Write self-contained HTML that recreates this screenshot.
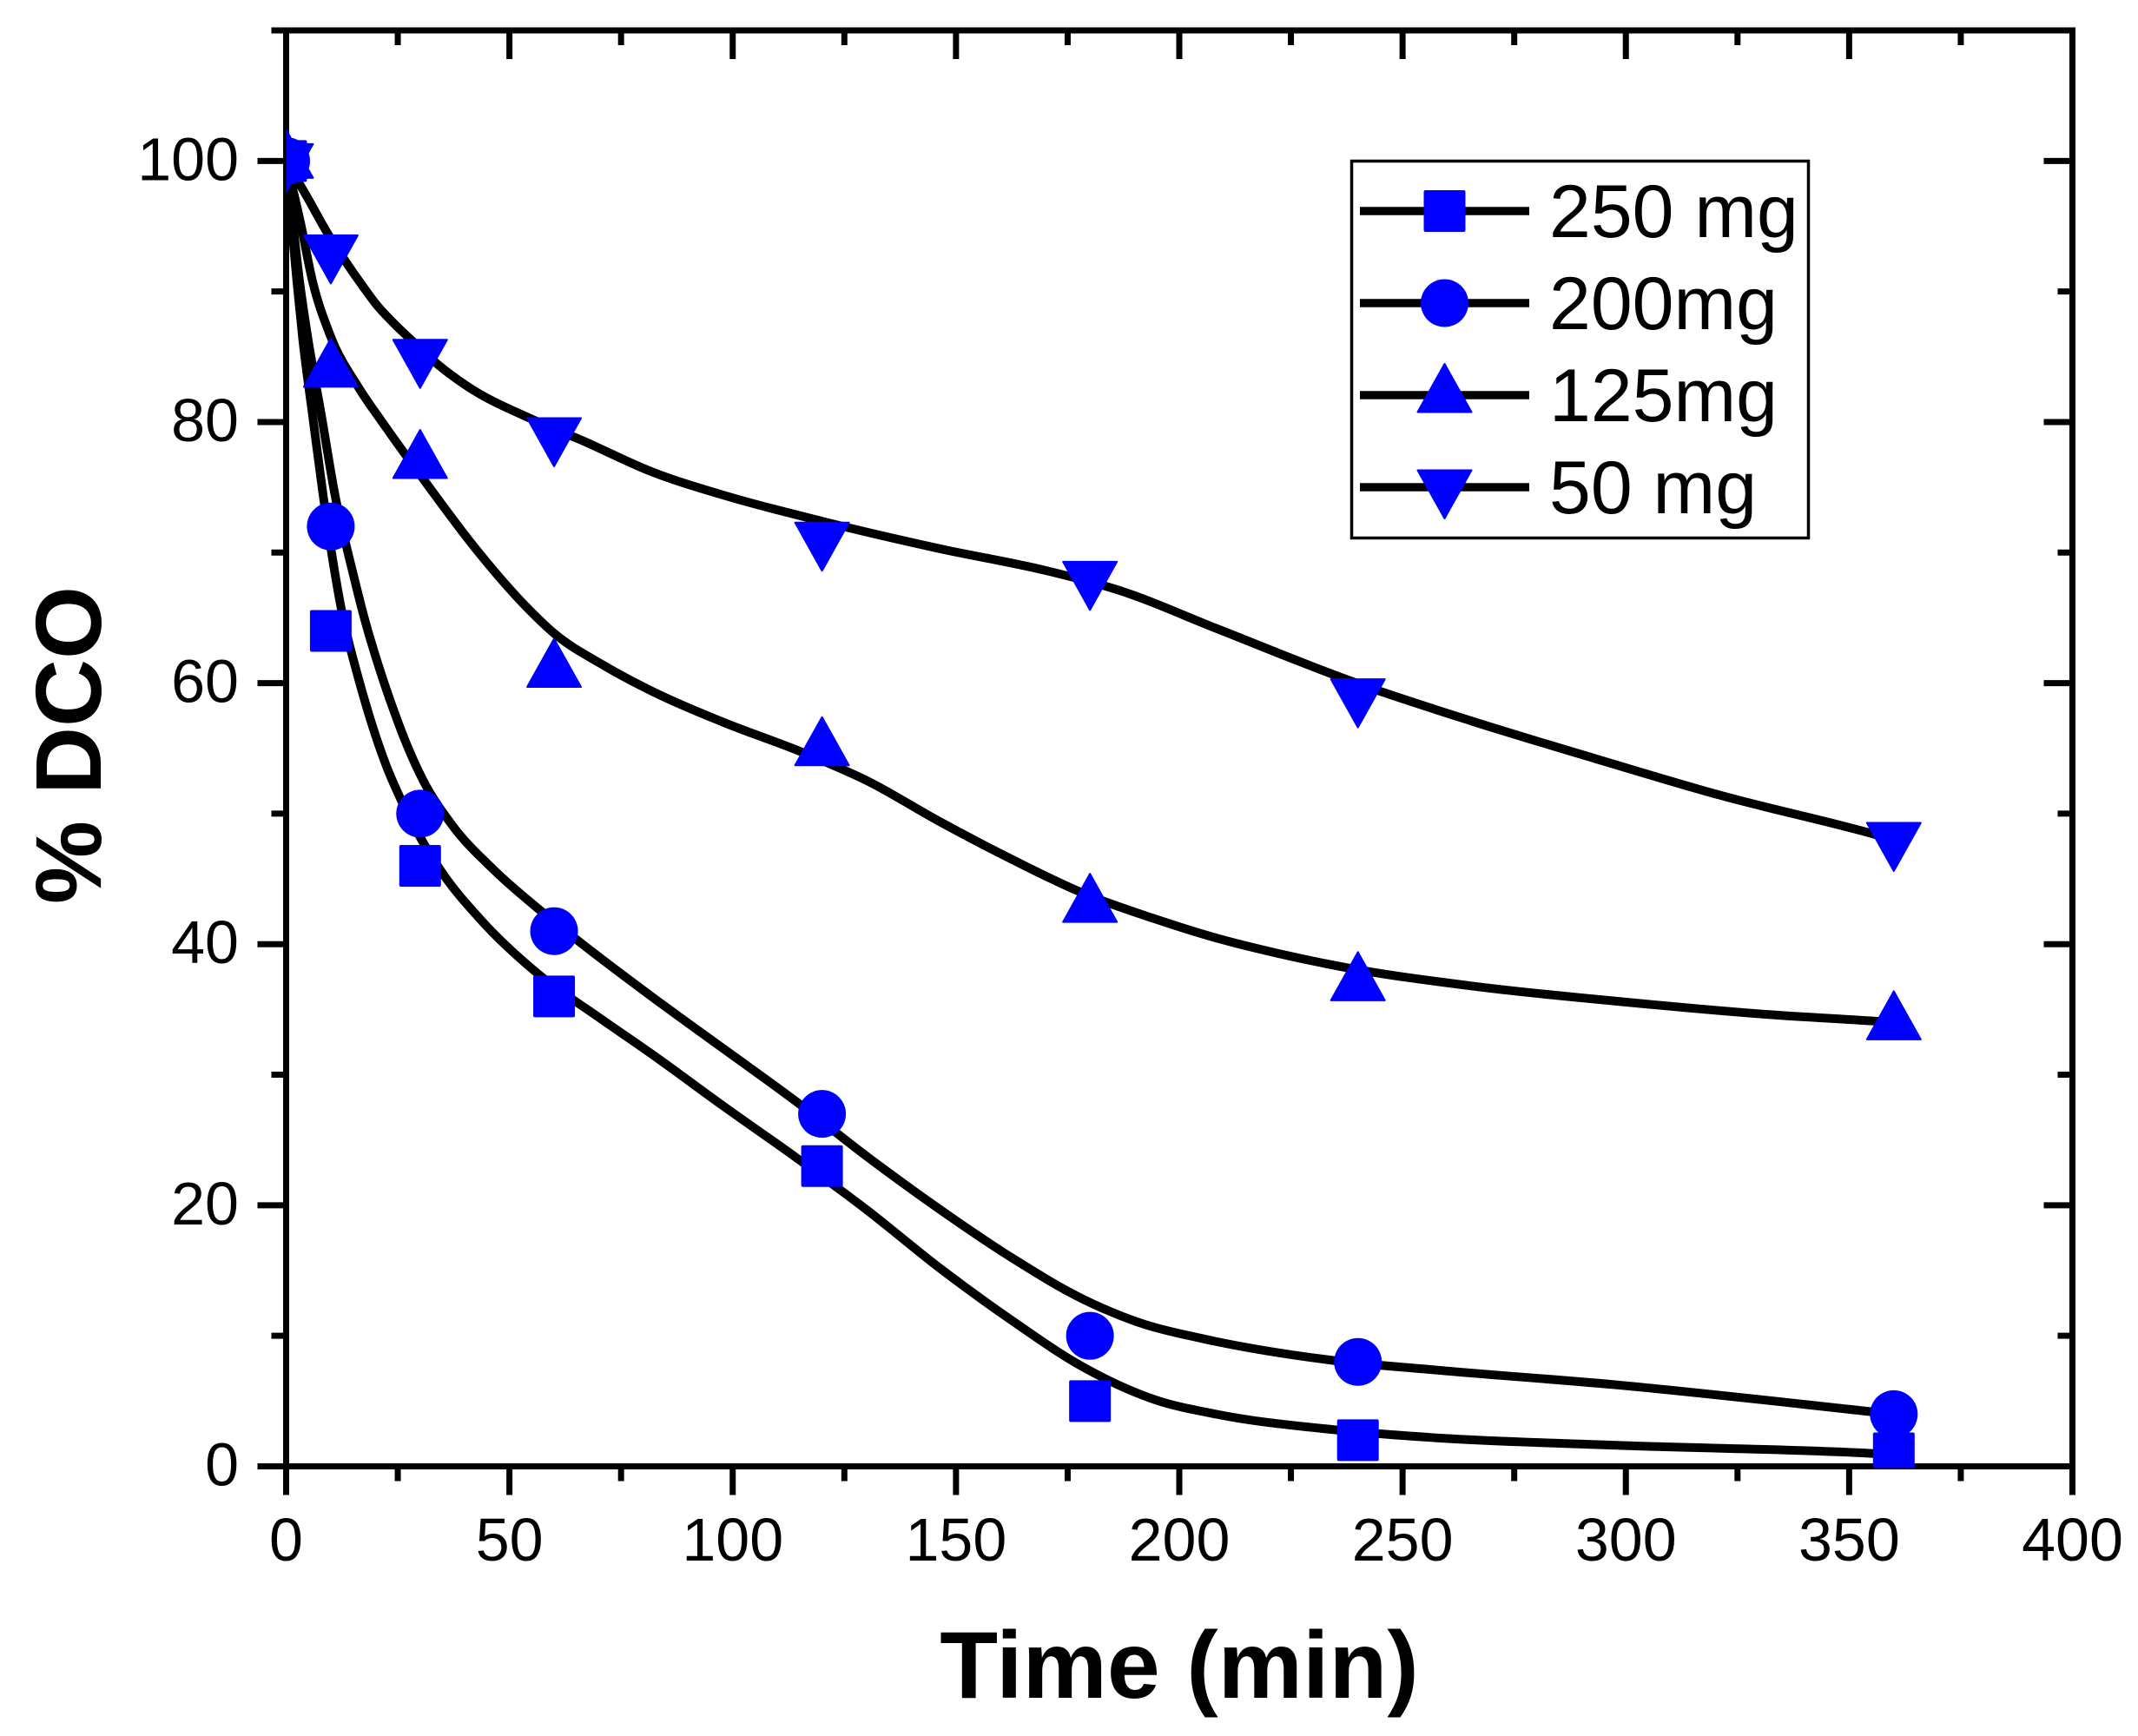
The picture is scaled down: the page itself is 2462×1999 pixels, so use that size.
<!DOCTYPE html>
<html lang="en">
<head>
<meta charset="utf-8">
<title>% DCO vs Time</title>
<style>
  html, body { margin: 0; padding: 0; background: #fff; }
  svg { display: block; }
  text { font-family: "Liberation Sans", Arial, sans-serif; fill: #000; }
  .tick-label { font-size: 70px; }
  .legend-label { font-size: 86px; }
  .axis-title { font-weight: bold; }
</style>
</head>
<body>
<svg id="chart" xmlns="http://www.w3.org/2000/svg" width="2462" height="1999" viewBox="0 0 2462 1999">
  <defs>
    <clipPath id="plot-clip"><rect x="329.5" y="0" width="2100" height="1690.5"></rect></clipPath>
  </defs>
  <rect x="0" y="0" width="2462" height="1999" fill="#fff"></rect>
  <g id="axes"></g>
  <g id="curves" clip-path="url(#plot-clip)"></g>
  <g id="markers" clip-path="url(#plot-clip)"></g>

  <text class="axis-title" font-size="109.5" x="1358" y="1955" text-anchor="middle">Time (min)</text>
  <text class="axis-title" font-size="108" x="0" y="0" text-anchor="middle" transform="translate(116 858) rotate(-90)">% DCO</text>

  <g>
    <rect x="1556.5" y="185.5" width="526" height="434" fill="#fff" stroke="#000" stroke-width="3.5"></rect>
    <g id="legend-keys"></g>
    <text class="legend-label" x="1784" y="273">250 mg</text>
    <text class="legend-label" x="1784" y="379">200mg</text>
    <text class="legend-label" x="1784" y="485">125mg</text>
    <text class="legend-label" x="1784" y="591">50 mg</text>
  </g>
</svg>

<script>
// Axis ranges and ticks
const xDomain = [0, 400];
const yDomain = [0, 110];
const xMajorTicks = [0, 50, 100, 150, 200, 250, 300, 350, 400];
const xMinorTicks = [25, 75, 125, 175, 225, 275, 325, 375];
const yMajorTicks = [0, 20, 40, 60, 80, 100];
const yMinorTicks = [10, 30, 50, 70, 90, 110];

// Measured data points
const times = [0, 10, 30, 60, 120, 180, 240, 360];
const values250 = [100, 64, 46, 36, 23, 5, 2, 1];
const values200 = [100, 72, 50, 41, 27, 10, 8, 4];
const values125 = [100, 84, 77, 61, 55, 43, 37, 34];
const values50 = [100, 93, 85, 79, 71, 68, 59, 48];

// Smooth curves
const curveT250 = [0, 1.2, 2.4, 3.7, 6, 8.2, 10.5, 12.4, 16, 18, 20.1, 22.5, 25.4, 30, 35.1, 43.5, 56.5, 70, 81.8, 97.9, 114, 130.2, 146.3, 162.4, 178.5, 194.6, 208.2, 234.8, 256.8, 299.2, 354.6, 360];
const curveV250 = [100, 95.3, 90.8, 86.4, 80.3, 74.6, 69.3, 65.6, 60.6, 58.2, 55.9, 53.6, 51.3, 48.2, 45.4, 41.9, 37.7, 34.4, 31.6, 27.6, 23.7, 19.6, 15.2, 11.2, 7.6, 5.1, 4, 2.8, 2.2, 1.6, 1, 0.9];
const curveT200 = [0, 1.5, 3, 4.6, 8, 11, 13.9, 15.7, 17.5, 21, 24.1, 27, 30.6, 37, 46.8, 56.5, 65.6, 81.8, 97.9, 114, 130.2, 146.3, 162.4, 178.5, 192, 205, 234.8, 256.8, 299.2, 354.6, 360];
const curveV200 = [100, 95.3, 90.8, 87, 80.3, 74.3, 69.9, 67.4, 65, 61, 57.9, 55.3, 52.6, 49.2, 45.6, 42.7, 40.2, 36, 32, 28, 23.7, 19.7, 16, 12.8, 10.9, 9.8, 8.1, 7.4, 6.2, 4.2, 4];
const curveT125 = [0, 3.2, 5.9, 9.8, 16.3, 21.5, 31.2, 42.2, 53.9, 59.7, 71.4, 82.4, 97.9, 115.6, 130.2, 146.3, 162.5, 178.5, 194, 208, 222, 237.5, 265.4, 298.9, 332.4, 355.8, 360];
const curveV125 = [100, 95.3, 90.8, 86.7, 82.6, 80, 75.4, 70.4, 65.8, 63.9, 61.3, 59.3, 57, 54.7, 52.5, 49.4, 46.5, 43.9, 42, 40.5, 39.3, 38.2, 36.8, 35.6, 34.6, 34.1, 34];
const curveT50 = [0, 4.6, 9.2, 13.7, 17.6, 20.2, 24, 28.6, 34, 40.3, 55.8, 66.2, 81.8, 97.9, 120, 146.3, 170.4, 186.6, 208.2, 239.7, 265.4, 293.3, 321.2, 354.8, 360];
const curveV50 = [100, 97.3, 94.5, 92.1, 90.2, 89, 87.6, 86.1, 84.4, 82.8, 80.1, 78.6, 76.2, 74.4, 72.4, 70.3, 68.6, 67.1, 64.2, 60, 57.1, 54.2, 51.4, 48.5, 48];

// Axis functions
const plotLeft = 329.5, plotRight = 2386.5, plotTop = 35, plotBottom = 1688.5;
function xScale(v) { return plotLeft + (v - xDomain[0]) / (xDomain[1] - xDomain[0]) * (plotRight - plotLeft); }
function yScale(v) { return plotBottom - (v - yDomain[0]) / (yDomain[1] - yDomain[0]) * (plotBottom - plotTop); }

const NS = 'http://www.w3.org/2000/svg';
function make(tag, parent) {
  const el = document.createElementNS(NS, tag);
  parent.appendChild(el);
  return el;
}
function seg(parent, x1, y1, x2, y2) {
  const el = make('line', parent);
  el.setAttribute('x1', x1);
  el.setAttribute('y1', y1);
  el.setAttribute('x2', x2);
  el.setAttribute('y2', y2);
  el.setAttribute('stroke', '#000');
  el.setAttribute('stroke-width', 7);
  return el;
}

const axes = document.getElementById('axes');
const majorLen = 33, minorLen = 17;

// Ticks on all four sides: outward on left and bottom, inward on top and right
xMajorTicks.forEach(function (t) {
  const px = xScale(t);
  const b = seg(axes, px, plotBottom, px, plotBottom + majorLen);
  
  
  const a = seg(axes, px, plotTop, px, plotTop + majorLen);
  
  
  const label = make('text', axes);
  
  
  label.setAttribute('class', 'tick-label');
  label.setAttribute('x', px);
  label.setAttribute('y', 1797);
  label.setAttribute('text-anchor', 'middle');
  label.textContent = String(t);
});
xMinorTicks.forEach(function (t) {
  const px = xScale(t);
  const b = seg(axes, px, plotBottom, px, plotBottom + minorLen);
  
  
  const a = seg(axes, px, plotTop, px, plotTop + minorLen);
  
  
});
yMajorTicks.forEach(function (v) {
  const py = yScale(v);
  const l = seg(axes, plotLeft - majorLen, py, plotLeft, py);
  
  
  const r = seg(axes, plotRight - majorLen, py, plotRight, py);
  
  
  const label = make('text', axes);
  
  
  label.setAttribute('class', 'tick-label');
  label.setAttribute('x', 275);
  label.setAttribute('y', py + 22);
  label.setAttribute('text-anchor', 'end');
  label.textContent = String(v);
});
yMinorTicks.forEach(function (v) {
  const py = yScale(v);
  const l = seg(axes, plotLeft - minorLen, py, plotLeft, py);
  
  
  const r = seg(axes, plotRight - minorLen, py, plotRight, py);
  
  
});

// Spines
const spineLeft = seg(axes, plotLeft, plotTop - 3.5, plotLeft, plotBottom + majorLen);


const spineRight = seg(axes, plotRight, plotTop - 3.5, plotRight, plotBottom + majorLen);


const spineTop = seg(axes, plotLeft, plotTop, plotRight, plotTop);


const spineBottom = seg(axes, plotLeft, plotBottom, plotRight, plotBottom);



// Smooth path through curve samples: cubic Hermite over t with three-point slopes
function smoothPath(ts, vs) {
  const n = ts.length;
  const d = [];
  for (let i = 0; i < n - 1; i++) d.push((vs[i + 1] - vs[i]) / (ts[i + 1] - ts[i]));
  const m = [];
  m[0] = d[0];
  m[n - 1] = d[n - 2];
  for (let i = 1; i < n - 1; i++) {
    const h0 = ts[i] - ts[i - 1];
    const h1 = ts[i + 1] - ts[i];
    m[i] = (h1 * d[i - 1] + h0 * d[i]) / (h0 + h1);
  }
  let path = 'M' + xScale(ts[0]).toFixed(2) + ' ' + yScale(vs[0]).toFixed(2);
  for (let i = 0; i < n - 1; i++) {
    const h = ts[i + 1] - ts[i];
    const c1x = xScale(ts[i] + h / 3);
    const c1y = yScale(vs[i] + m[i] * h / 3);
    const c2x = xScale(ts[i + 1] - h / 3);
    const c2y = yScale(vs[i + 1] - m[i + 1] * h / 3);
    path += 'C' + c1x.toFixed(2) + ' ' + c1y.toFixed(2) + ' ' + c2x.toFixed(2) + ' ' + c2y.toFixed(2) + ' ' + xScale(ts[i + 1]).toFixed(2) + ' ' + yScale(vs[i + 1]).toFixed(2);
  }
  return path;
}

const curvesGroup = document.getElementById('curves');
function addCurve(ts, vs, name) {
  const el = make('path', curvesGroup);
  
  
  el.setAttribute('d', smoothPath(ts, vs));
  el.setAttribute('fill', 'none');
  el.setAttribute('stroke', '#000');
  el.setAttribute('stroke-width', 10);
  el.setAttribute('stroke-linejoin', 'round');
}
addCurve(curveT50, curveV50, 'curve-50mg');
addCurve(curveT125, curveV125, 'curve-125mg');
addCurve(curveT200, curveV200, 'curve-200mg');
addCurve(curveT250, curveV250, 'curve-250mg');

// Marker shapes, centred on (cx, cy)
function drawMarker(parent, shape, cx, cy) {
  let el;
  if (shape === 'square') {
    el = make('rect', parent);
    el.setAttribute('x', cx - 24);
    el.setAttribute('y', cy - 24);
    el.setAttribute('width', 48);
    el.setAttribute('height', 48);
    el.setAttribute('rx', 2);
  } else if (shape === 'circle') {
    el = make('circle', parent);
    el.setAttribute('cx', cx);
    el.setAttribute('cy', cy);
    el.setAttribute('r', 27.5);
  } else if (shape === 'up') {
    el = make('polygon', parent);
    el.setAttribute('points', cx + ',' + (cy - 36) + ' ' + (cx + 31) + ',' + (cy + 19.5) + ' ' + (cx - 31) + ',' + (cy + 19.5));
    el.setAttribute('stroke', '#00f');
    el.setAttribute('stroke-width', 2);
    el.setAttribute('stroke-linejoin', 'round');
  } else {
    el = make('polygon', parent);
    el.setAttribute('points', cx + ',' + (cy + 36) + ' ' + (cx + 31) + ',' + (cy - 19.5) + ' ' + (cx - 31) + ',' + (cy - 19.5));
    el.setAttribute('stroke', '#00f');
    el.setAttribute('stroke-width', 2);
    el.setAttribute('stroke-linejoin', 'round');
  }
  el.setAttribute('fill', '#00f');
  return el;
}

const markersGroup = document.getElementById('markers');
function addMarkers(vs, shape, name) {
  vs.forEach(function (v, i) {
    const el = drawMarker(markersGroup, shape, xScale(times[i]), yScale(v));
    
    
  });
}
addMarkers(values50, 'down', 'marker-50mg');
addMarkers(values125, 'up', 'marker-125mg');
addMarkers(values200, 'circle', 'marker-200mg');
addMarkers(values250, 'square', 'marker-250mg');

// Legend keys
const legendKeys = document.getElementById('legend-keys');
function addLegendKey(shape, rowY, name) {
  const line = make('line', legendKeys);
  
  
  line.setAttribute('x1', 1566);
  line.setAttribute('x2', 1761);
  line.setAttribute('y1', rowY);
  line.setAttribute('y2', rowY);
  line.setAttribute('stroke', '#000');
  line.setAttribute('stroke-width', 9.5);
  const mark = drawMarker(legendKeys, shape, 1663.5, rowY);
  
  
}
addLegendKey('square', 243, 'legend-key-250mg');
addLegendKey('circle', 349, 'legend-key-200mg');
addLegendKey('up', 455, 'legend-key-125mg');
addLegendKey('down', 561, 'legend-key-50mg');
</script>
</body>
</html>
